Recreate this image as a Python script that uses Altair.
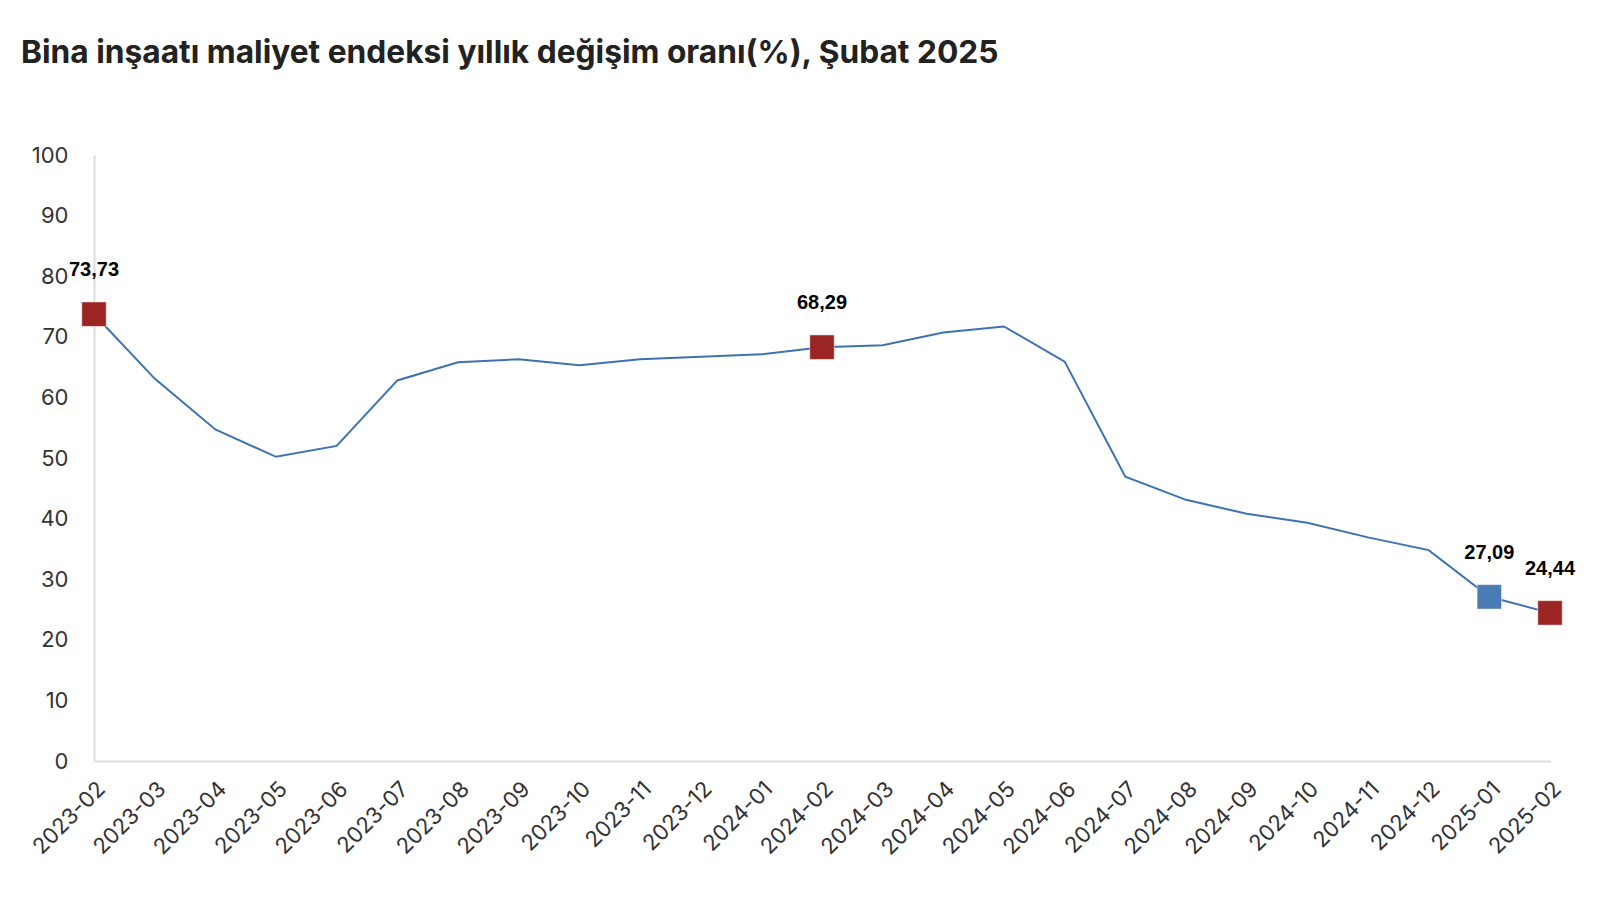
import altair as alt
import pandas as pd

months = ["2023-02", "2023-03", "2023-04", "2023-05", "2023-06", "2023-07",
          "2023-08", "2023-09", "2023-10", "2023-11", "2023-12", "2024-01",
          "2024-02", "2024-03", "2024-04", "2024-05", "2024-06", "2024-07",
          "2024-08", "2024-09", "2024-10", "2024-11", "2024-12", "2025-01",
          "2025-02"]
values = [73.73, 63.1, 54.7, 50.2, 52.0, 62.8,
          65.8, 66.3, 65.3, 66.3, 66.7, 67.1,
          68.29, 68.6, 70.7, 71.7, 65.9, 46.9,
          43.1, 40.8, 39.3, 36.9, 34.8, 27.09,
          24.44]

hl_months = ["2023-02", "2024-02", "2025-01", "2025-02"]
hl_values = [73.73, 68.29, 27.09, 24.44]
hl_labels = ["73,73", "68,29", "27,09", "24,44"]
hl_colors = ["#9B2523", "#9B2523", "#4A7BB5", "#9B2523"]

df = pd.DataFrame({"ay": months, "deger": values})
hl = pd.DataFrame({"ay": hl_months, "deger": hl_values,
                   "etiket": hl_labels, "renk": hl_colors})

x_enc = alt.X("ay:O", sort=months, scale=alt.Scale(padding=0),
              axis=alt.Axis(title=None, labelAngle=-45, labelAlign="right",
                            labelBaseline="top", labelPadding=17,
                            labelFontSize=22, labelColor="#333333",
                            labelFont="Inter", ticks=False,
                            domainColor="#dddddd", domainWidth=2))
y_enc = alt.Y("deger:Q", scale=alt.Scale(domain=[0, 100], nice=False),
              axis=alt.Axis(title=None, values=list(range(0, 101, 10)),
                            grid=False, ticks=False, labelPadding=26,
                            labelFontSize=22, labelColor="#333333",
                            labelFont="Inter",
                            domainColor="#dddddd", domainWidth=2))

line = alt.Chart(df).mark_line(color="#3D72B3", strokeWidth=2).encode(
    x=x_enc, y=y_enc)

points = alt.Chart(hl).mark_point(shape="square", filled=True, size=600,
                                  opacity=1, stroke="#ffffff",
                                  strokeWidth=1, strokeOpacity=0.5).encode(
    x=alt.X("ay:O", sort=months), y="deger:Q",
    color=alt.Color("renk:N", scale=None))

labels = alt.Chart(hl).mark_text(font="Liberation Sans", fontWeight="bold",
                                 fontSize=20, color="#000000", dy=-44,
                                 baseline="middle").encode(
    x=alt.X("ay:O", sort=months), y="deger:Q", text="etiket:N")

chart = alt.layer(line, points, labels).properties(
    width=1456, height=606,
    title=alt.TitleParams(
        text="Bina inşaatı maliyet endeksi yıllık değişim oranı(%), Şubat 2025",
        anchor="start", frame="group", font="Inter", fontSize=31.7,
        fontWeight="bold", color="#222222", dx=-73, offset=49,
        baseline="alphabetic"),
    autosize=alt.AutoSizeParams(type="none"),
    padding={"left": 86, "top": 147, "right": 50, "bottom": 140},
).configure_view(stroke=None)

chart.save("out.html", embed_options={"renderer": "svg", "actions": False})
